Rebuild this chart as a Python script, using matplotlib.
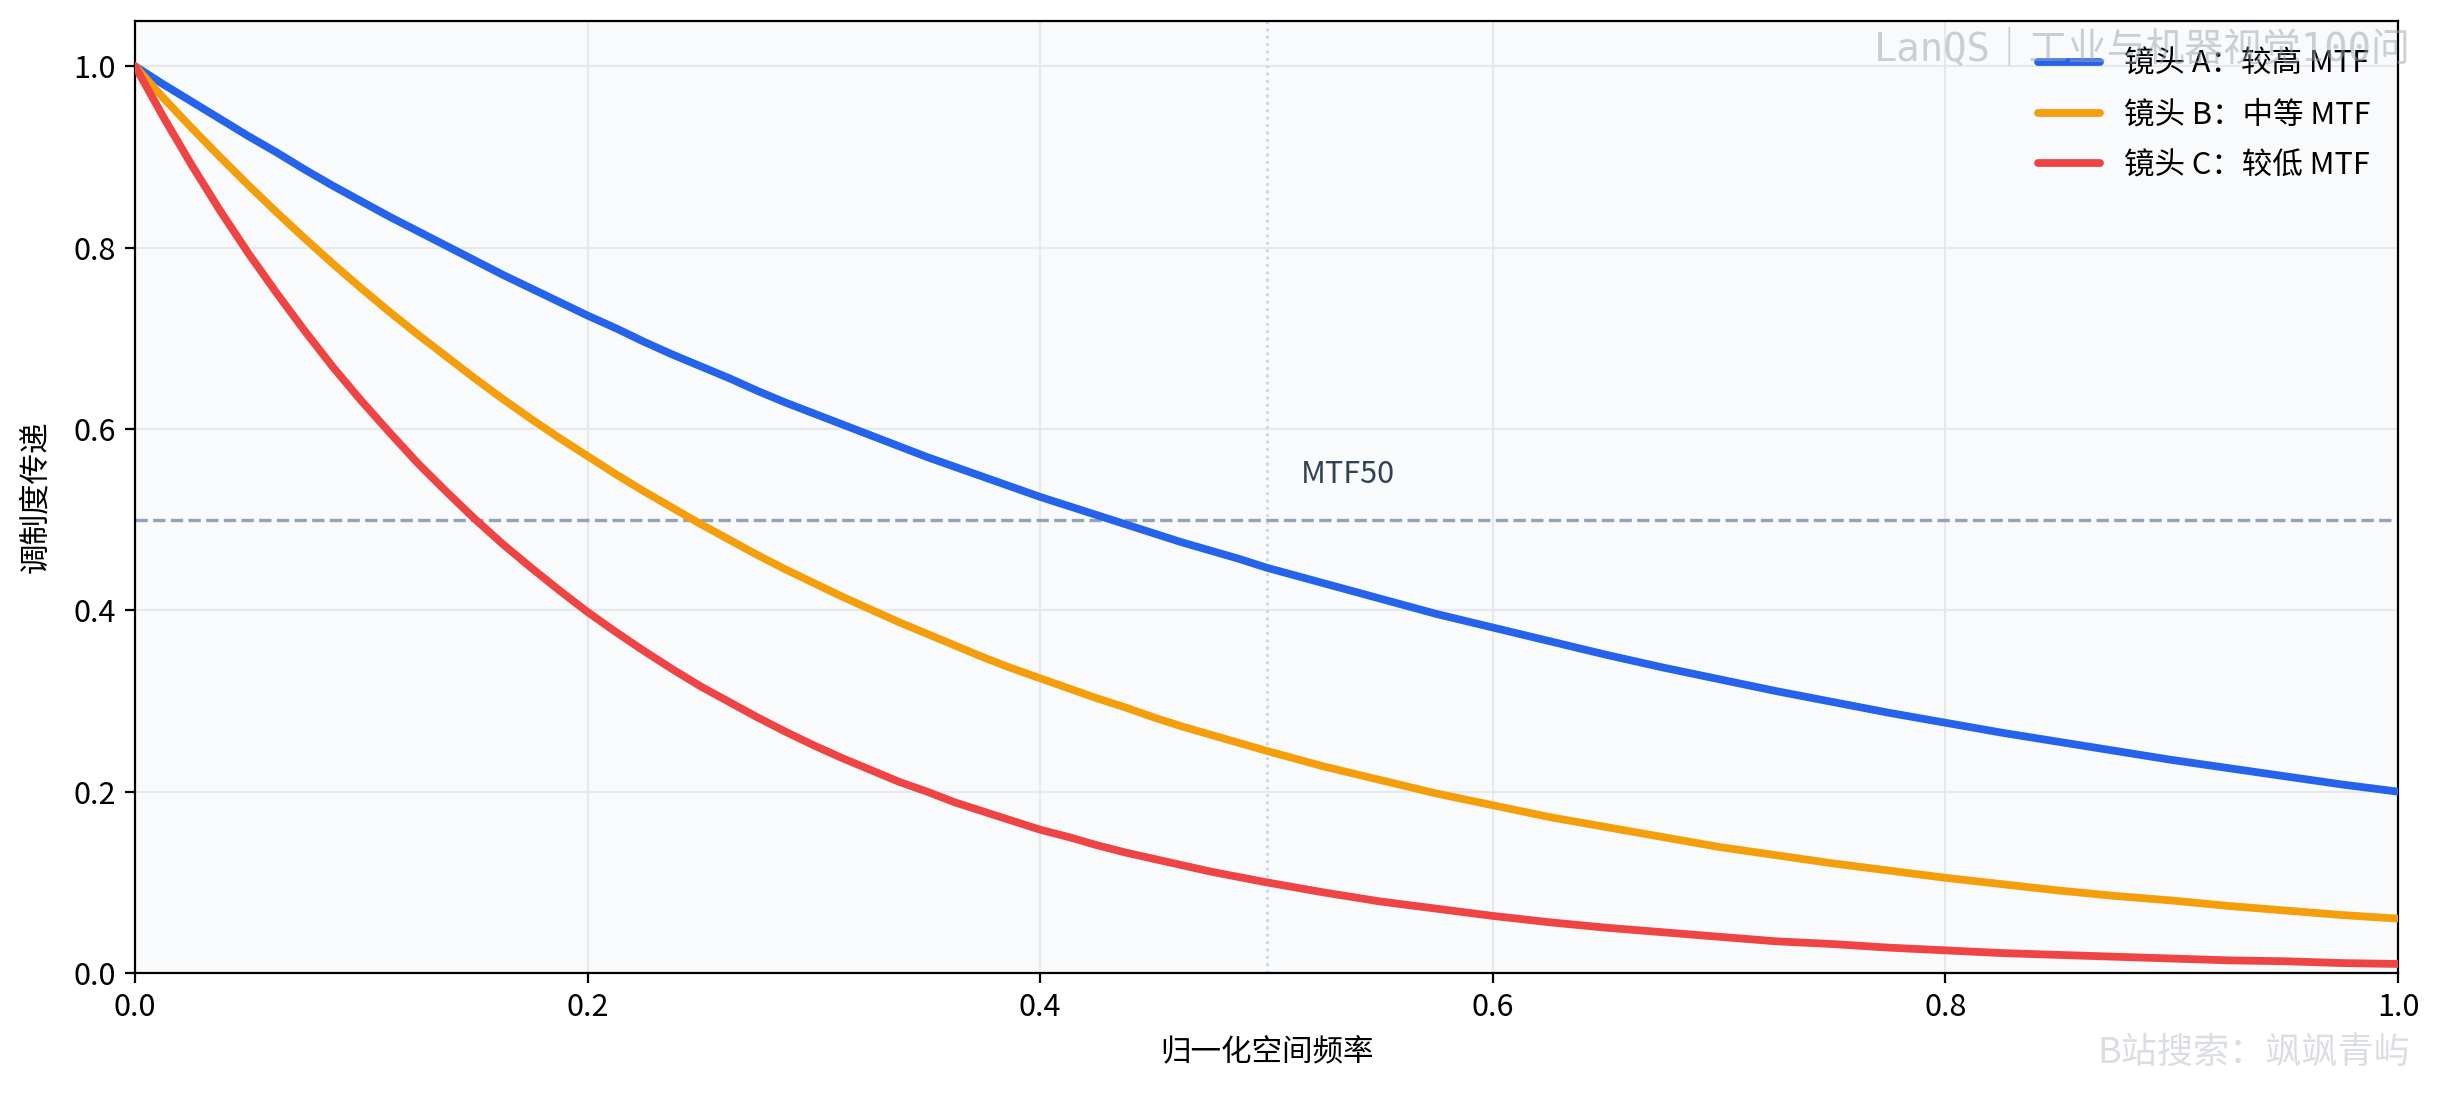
import matplotlib
matplotlib.use("Agg")
import matplotlib.pyplot as plt

plt.rcParams['font.family'] = ['Noto Sans CJK SC', 'DejaVu Sans']
plt.rcParams['axes.unicode_minus'] = False

freq = [0.0000, 0.0125, 0.0250, 0.0375, 0.0500, 0.0625, 0.0750, 0.0875, 0.1000, 0.1125,
        0.1250, 0.1375, 0.1500, 0.1625, 0.1750, 0.1875, 0.2000, 0.2125, 0.2250, 0.2375,
        0.2500, 0.2625, 0.2750, 0.2875, 0.3000, 0.3125, 0.3250, 0.3375, 0.3500, 0.3625,
        0.3750, 0.3875, 0.4000, 0.4125, 0.4250, 0.4375, 0.4500, 0.4625, 0.4750, 0.4875,
        0.500, 0.525, 0.550, 0.575, 0.600, 0.625, 0.650, 0.675, 0.700, 0.725,
        0.750, 0.775, 0.800, 0.825, 0.850, 0.875, 0.900, 0.925, 0.950, 0.975, 1.000]

mtf_a = [1.000, 0.980, 0.961, 0.942, 0.923, 0.905, 0.886, 0.868, 0.851, 0.834,
         0.818, 0.802, 0.786, 0.770, 0.755, 0.740, 0.725, 0.711, 0.696, 0.682,
         0.669, 0.656, 0.642, 0.629, 0.617, 0.605, 0.593, 0.581, 0.569, 0.558,
         0.547, 0.536, 0.525, 0.515, 0.505, 0.495, 0.485, 0.475, 0.466, 0.457,
         0.447, 0.430, 0.413, 0.396, 0.381, 0.366, 0.351, 0.337, 0.324, 0.311,
         0.299, 0.287, 0.276, 0.265, 0.255, 0.245, 0.235, 0.226, 0.217, 0.208, 0.200]

mtf_b = [1.000, 0.965, 0.932, 0.900, 0.869, 0.839, 0.810, 0.782, 0.755, 0.729,
         0.704, 0.680, 0.656, 0.633, 0.611, 0.590, 0.570, 0.550, 0.531, 0.513,
         0.495, 0.478, 0.461, 0.445, 0.430, 0.415, 0.401, 0.387, 0.374, 0.361,
         0.348, 0.336, 0.325, 0.314, 0.303, 0.293, 0.282, 0.272, 0.263, 0.254,
         0.245, 0.228, 0.213, 0.198, 0.185, 0.172, 0.161, 0.150, 0.139, 0.130,
         0.121, 0.113, 0.105, 0.098, 0.091, 0.085, 0.080, 0.074, 0.069, 0.064, 0.060]

mtf_c = [1.000, 0.944, 0.891, 0.841, 0.794, 0.750, 0.708, 0.668, 0.631, 0.596,
         0.562, 0.531, 0.501, 0.473, 0.447, 0.422, 0.398, 0.376, 0.355, 0.335,
         0.316, 0.299, 0.282, 0.266, 0.251, 0.237, 0.224, 0.211, 0.200, 0.188,
         0.178, 0.168, 0.158, 0.150, 0.141, 0.133, 0.126, 0.119, 0.112, 0.106,
         0.100, 0.089, 0.079, 0.071, 0.063, 0.056, 0.050, 0.045, 0.040, 0.035,
         0.032, 0.028, 0.025, 0.022, 0.020, 0.018, 0.016, 0.014, 0.013, 0.011, 0.010]

labels = ['镜头 A：较高 MTF', '镜头 B：中等 MTF', '镜头 C：较低 MTF']
colors = ['#2563eb', '#f59e0b', '#ef4444']
mtf50_level = 0.5
ref_freq = 0.5

fig = plt.figure(figsize=(12.21, 5.485), dpi=200)
ax = fig.add_axes([0.0553, 0.113, 0.9267, 0.868])
ax.set_facecolor('#f8fafc')

for y, lab, c in zip([mtf_a, mtf_b, mtf_c], labels, colors):
    ax.plot(freq, y, color=c, lw=2.8, label=lab, zorder=3,
            solid_joinstyle='round', solid_capstyle='round')

ax.axhline(mtf50_level, color='#94a3b8', ls='--', lw=1.2, zorder=2)
ax.axvline(ref_freq, color='#cbd5e1', ls=':', lw=1.0, zorder=2)
ax.text(0.515, 0.54, 'MTF50', fontsize=11, color='#334155')

ax.set_xlim(0, 1)
ax.set_ylim(0, 1.05)
ax.grid(True, color='#e5e7eb', lw=0.8, alpha=0.9)
ax.set_axisbelow(True)
ax.set_xlabel('归一化空间频率', fontsize=11, labelpad=5)
ax.set_ylabel('调制度传递', fontsize=11, labelpad=8)
ax.tick_params(labelsize=11)

ax.legend(loc='upper right', frameon=False, fontsize=11, handlelength=2.0,
          labelspacing=0.65)

fig.text(0.987, 0.955, 'LanQS｜工业与机器视觉100问', ha='right', va='center',
         fontsize=14, color='#9ca3af', alpha=0.5,
         family=['DejaVu Sans Mono', 'Noto Sans CJK SC'])
fig.text(0.987, 0.04, 'B站搜索：飒飒青屿', ha='right', va='center',
         fontsize=13, color='#d1d5db', alpha=0.8)

fig.savefig('out.png', dpi=200)
